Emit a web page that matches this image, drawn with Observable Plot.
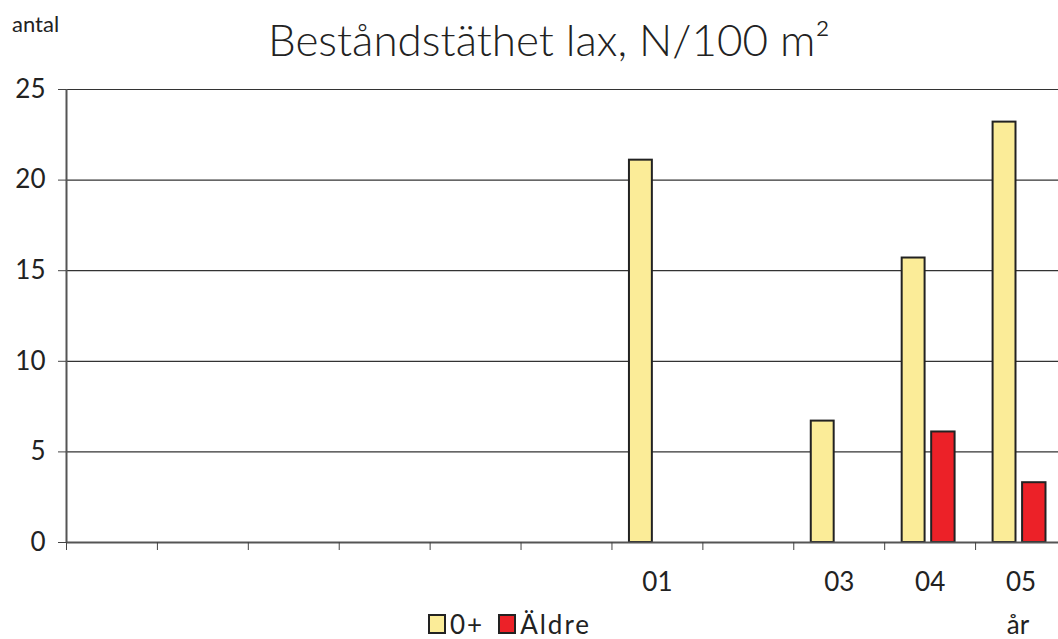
<!DOCTYPE html>
<html>
<head>
<meta charset="utf-8">
<script src="https://cdn.jsdelivr.net/npm/d3@7"></script>
<script src="https://cdn.jsdelivr.net/npm/@observablehq/plot@0.6"></script>
<style>
  html, body { margin: 0; padding: 0; background: #fff; overflow: hidden; }
  body { width: 1058px; height: 639px; position: relative; font-family: "Lato", sans-serif; color: #222; }
  #header { position: relative; height: 70px; }
  #title { position: absolute; top: 13px; left: 549px; transform: translateX(-50%); font-size: 44px; font-weight: 300; white-space: nowrap; line-height: 52px; }
  #unit { position: absolute; left: 12px; top: 10px; font-size: 22px; line-height: 28px; }
  #chart svg { display: block; }
  #legend { position: absolute; top: 609px; left: 428px; font-size: 26px; line-height: 30px; display: flex; align-items: center; white-space: nowrap; }
  .sw { display: inline-block; width: 14px; height: 16px; border: 2px solid #222; margin-right: 4px; }
  .item { display: flex; align-items: center; margin-right: 14px; letter-spacing: 2px; }
  #xlabel { position: absolute; top: 609px; left: 1018px; transform: translateX(-50%); font-size: 26px; line-height: 30px; }
</style>
</head>
<body>
<div id="header"><div id="unit">antal</div><div id="title">Beståndstäthet lax, N/100 m²</div></div>
<div id="chart"></div>
<div id="legend"></div>
<div id="xlabel">år</div>
<script>
const years = ["95","96","97","98","99","00","01","02","03","04","05"];
const yearLabels = ["","","","","","","01","","03","04","05"];
const seriesNames = ["0+","Äldre"];
const seriesColors = ["#fbec98","#ec2128"];
const young = [null,null,null,null,null,null,21.1,null,6.7,15.7,23.2];
const older = [null,null,null,null,null,null,null,null,null,6.1,3.3];
const yTicks = [0,5,10,15,20,25];

const data = years.map((y, i) => ({i, year: y, young: young[i], older: older[i]}));
const youngData = data.filter(d => d.young != null);
const olderData = data.filter(d => d.older != null);

const chart = Plot.plot({
  width: 1058,
  height: 527,
  marginTop: 19,
  marginBottom: 55,
  marginLeft: 66,
  marginRight: 0,
  style: {fontFamily: "Lato, sans-serif", fontSize: "26px", color: "#222", background: "#fff"},
  x: {type: "linear", domain: [0, years.length], range: [66, 1066]},
  y: {domain: [0, 25]},
  marks: [
    Plot.gridY(yTicks.filter(t => t > 0), {stroke: "#333", strokeOpacity: 1, strokeWidth: 1.2}),
    Plot.rectY(youngData, {x1: "i", x2: d => d.i + 1, y1: 0, y2: "young", fill: seriesColors[0], stroke: "#222", strokeWidth: 2, insetLeft: 17.5, insetRight: 50.5}),
    Plot.rectY(olderData, {x1: "i", x2: d => d.i + 1, y1: 0, y2: "older", fill: seriesColors[1], stroke: "#222", strokeWidth: 2, insetLeft: 47, insetRight: 20.5}),
    Plot.ruleY([0], {stroke: "#555", strokeWidth: 2}),
    Plot.ruleX([0], {y1: 0, y2: 25, stroke: "#555", strokeWidth: 2}),
    Plot.axisY({ticks: yTicks, tickSize: 8, tickPadding: 13, stroke: "#444", label: null, fontSize: 26}),
    Plot.axisX({ticks: d3.range(0, years.length), tickSize: 8, tickFormat: () => "", stroke: "#444", label: null}),
    Plot.axisX({ticks: data.map(d => d.i + 0.5), tickSize: 0, tickPadding: 30, tickFormat: v => yearLabels[Math.floor(v)], label: null, fontSize: 26})
  ]
});
document.getElementById("chart").appendChild(chart);

const legend = document.getElementById("legend");
seriesNames.forEach((name, k) => {
  const item = document.createElement("div");
  item.className = "item";
  const sw = document.createElement("span");
  sw.className = "sw";
  sw.style.background = seriesColors[k];
  item.appendChild(sw);
  item.appendChild(document.createTextNode(name));
  legend.appendChild(item);
});
</script>
</body>
</html>
